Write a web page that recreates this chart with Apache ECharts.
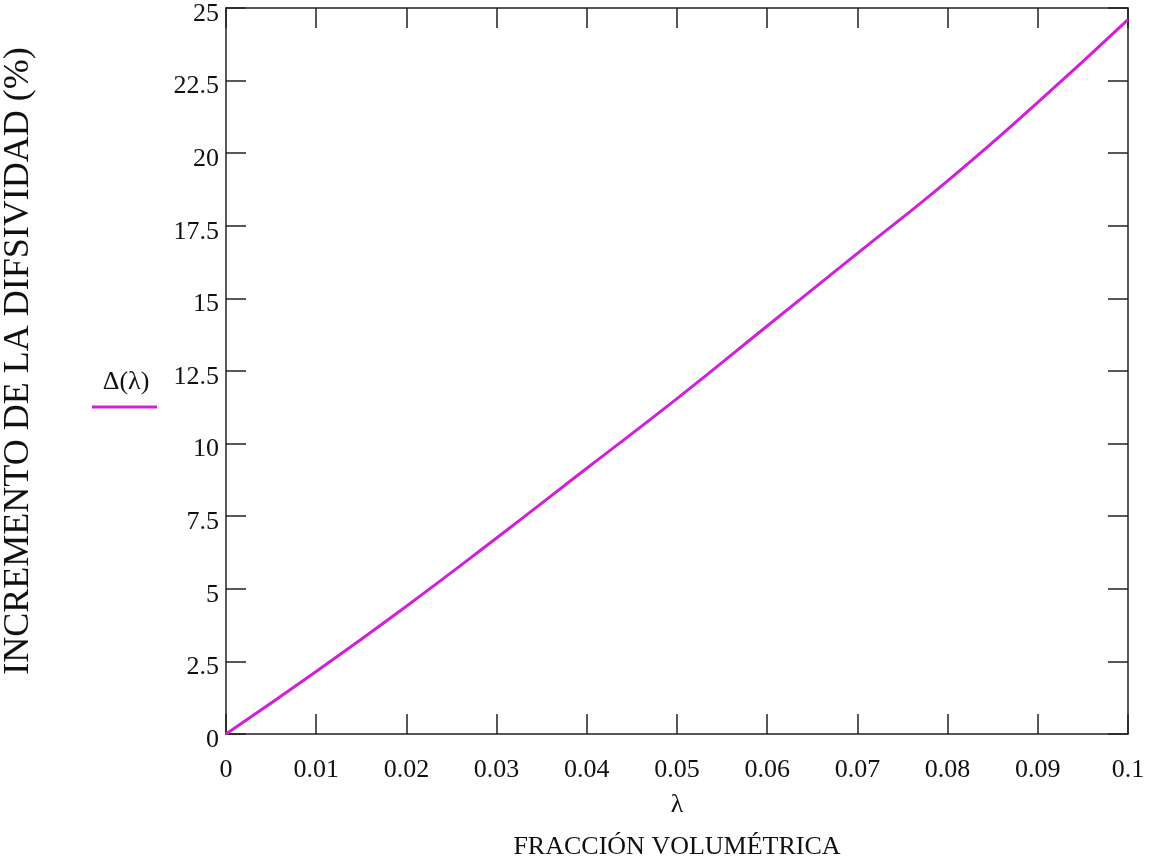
<!DOCTYPE html>
<html><head><meta charset="utf-8">
<script src="https://cdn.jsdelivr.net/npm/echarts@6/dist/echarts.min.js"></script>
<style>html,body{margin:0;padding:0;background:#fff}#c{width:1156px;height:859px}</style>
</head><body><div id="c"></div>
<script>
const lambdaValues = [0, 0.01, 0.02, 0.03, 0.04, 0.05, 0.06, 0.07, 0.08, 0.09, 0.1];
const deltaValues = [0, 2.15, 4.4, 6.75, 9.15, 11.55, 14.05, 16.55, 19.05, 21.75, 24.6];
const seriesName = 'Δ(λ)';
const yTitle = 'INCREMENTO DE LA DIFSIVIDAD (%)';
const xSymbol = 'λ';
const xTitle = 'FRACCIÓN VOLUMÉTRICA';

const font = '"Liberation Serif", "DejaVu Serif", serif';
const chart = echarts.init(document.getElementById('c'));
const axisLine = {show: true, onZero: false, lineStyle: {color: '#222', width: 1.5}};
const tick = {show: true, inside: true, length: 20, lineStyle: {color: '#222', width: 1.5}};
chart.setOption({
  backgroundColor: '#fff',
  animation: false,
  grid: {left: 226, top: 8, right: 28, bottom: 125, containLabel: false, outerBoundsMode: 'none'},
  xAxis: [{
    type: 'value', min: 0, max: 0.1, interval: 0.01,
    axisLine, axisTick: tick, splitLine: {show: false},
    axisLabel: {fontFamily: font, fontSize: 26, color: '#111', margin: 23,
      formatter: v => String(+v.toFixed(2))},
    name: '{a|' + xSymbol + '}\n{b|' + xTitle + '}',
    nameLocation: 'middle', nameGap: 51,
    nameTextStyle: {rich: {
      a: {fontFamily: font, fontSize: 26, color: '#111', lineHeight: 40},
      b: {fontFamily: font, fontSize: 26, color: '#111', lineHeight: 44}
    }}
  }, {
    type: 'value', position: 'top', min: 0, max: 0.1, interval: 0.01,
    axisLine, axisTick: tick, axisLabel: {show: false}, splitLine: {show: false}
  }],
  yAxis: [{
    type: 'value', min: 0, max: 25, interval: 2.5,
    axisLine, axisTick: tick, splitLine: {show: false},
    axisLabel: {fontFamily: font, fontSize: 26, color: '#111', margin: 7,
      verticalAlign: 'top', lineHeight: 12}
  }, {
    type: 'value', position: 'right', min: 0, max: 25, interval: 2.5,
    axisLine, axisTick: tick, axisLabel: {show: false}, splitLine: {show: false}
  }],
  series: [{
    name: seriesName, type: 'line', smooth: true, showSymbol: false,
    data: lambdaValues.map((x, i) => [x, deltaValues[i]]),
    lineStyle: {color: '#d020d8', width: 3}
  }],
  graphic: [
    {type: 'text', x: 19, y: 361, rotation: Math.PI / 2,
      style: {text: yTitle, font: '36px ' + font, fill: '#111', align: 'center', verticalAlign: 'middle'}},
    {type: 'text', x: 126, y: 382, style: {text: seriesName, font: '26px ' + font, fill: '#111', align: 'center', verticalAlign: 'middle'}},
    {type: 'line', shape: {x1: 92, y1: 407, x2: 157, y2: 407}, style: {stroke: '#d020d8', lineWidth: 3}}
  ]
});
</script></body></html>
